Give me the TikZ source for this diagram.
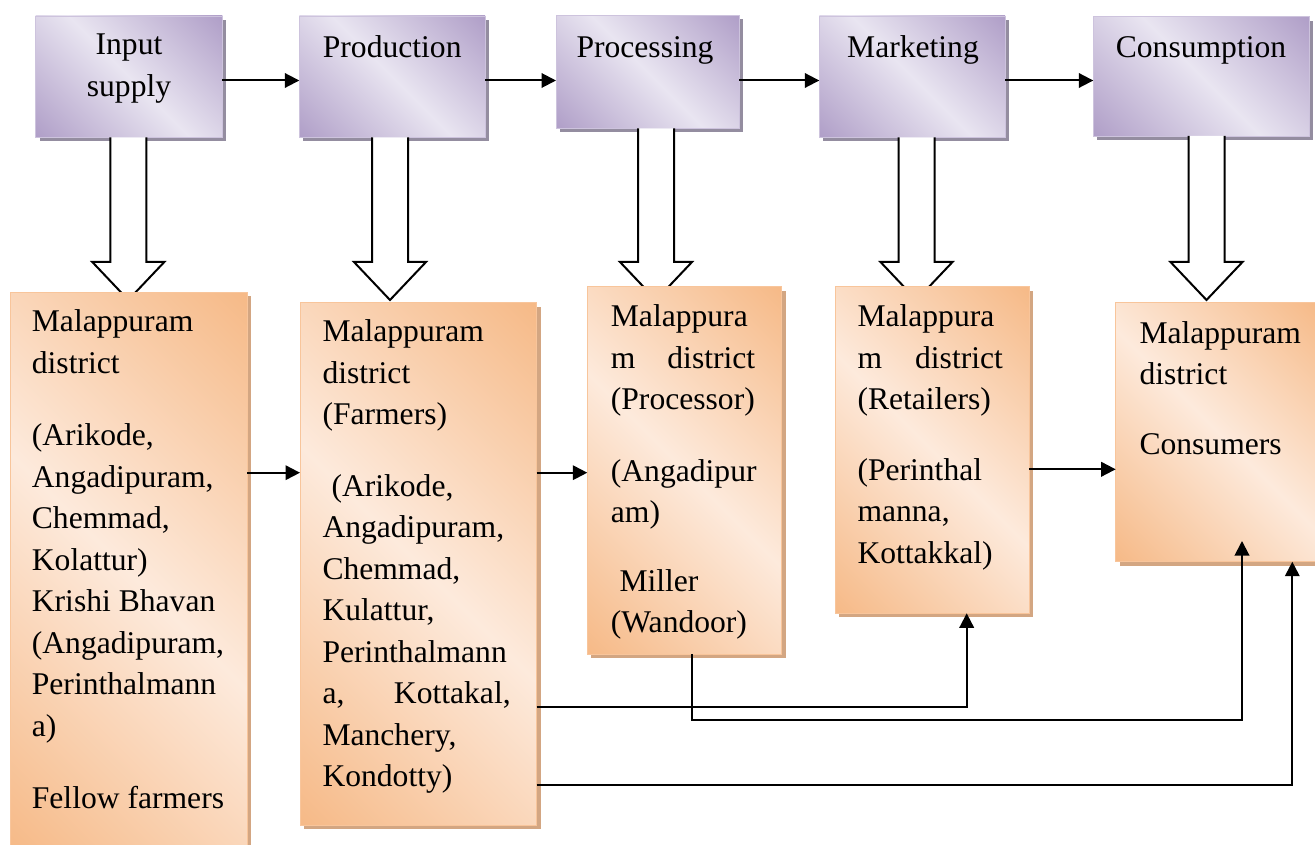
\documentclass[tikz,border=0pt]{standalone}
\usepackage{fontspec}
\setmainfont{Liberation Serif}
\usetikzlibrary{arrows.meta,shadows}

\definecolor{pdark}{HTML}{B09FC8}
\definecolor{plight}{HTML}{E9E5F1}
\definecolor{pedge}{HTML}{CDC3DD}
\definecolor{pshadow}{HTML}{948DA0}
\definecolor{odark}{HTML}{F6BA88}
\definecolor{olight}{HTML}{FDEADC}
\definecolor{oedge}{HTML}{F8C59B}
\definecolor{oshadow}{HTML}{D3A682}

% diagonal gradients: dark corners, light band along the other diagonal
\pgfdeclarehorizontalshading{purplediag}{100bp}{color(0bp)=(pdark); color(15bp)=(pdark); color(50bp)=(plight); color(85bp)=(pdark); color(100bp)=(pdark)}
\pgfdeclarehorizontalshading{orangediag}{100bp}{color(0bp)=(odark); color(15bp)=(odark); color(50bp)=(olight); color(85bp)=(odark); color(100bp)=(odark)}

\newcommand\spreadline[1]{\leavevmode\hbox to\linewidth{#1}}

\tikzset{
  stage/.style={draw=pedge, line width=0.8pt, shading=purplediag, shading angle=45,
    inner sep=0pt, outer sep=0pt, anchor=north west,
    drop shadow={shadow xshift=4pt, shadow yshift=-4pt, fill=pshadow, opacity=1}},
  place/.style={draw=oedge, line width=0.8pt, shading=orangediag, shading angle=45,
    inner sep=0pt, outer sep=0pt, anchor=north west,
    drop shadow={shadow xshift=4pt, shadow yshift=-4pt, fill=oshadow, opacity=1}},
  lbl/.style={inner sep=0pt, font=\fontsize{31.6}{41.2}\selectfont, anchor=base},
  txt/.style={inner sep=0pt, font=\fontsize{31.6}{41.5}\selectfont, anchor=base west},
  hollow/.style={draw=black, line width=2pt, fill=white, line join=miter},
  conn/.style={line width=2pt, -{Triangle[length=14.5pt,width=14.5pt]}},
}

\begin{document}
\begin{tikzpicture}[x=1pt,y=-1pt]
\useasboundingbox (0,0) rectangle (1315,845);
\clip (0,0) rectangle (1315,845);

% stages of the chain
\node[stage, minimum width=186.6pt, minimum height=121.3pt] (ps) at (35.7,16) {};
\node[stage, minimum width=185.7pt, minimum height=121.3pt] (pr) at (299.3,16) {};
\node[stage, minimum width=183.3pt, minimum height=113pt]   (pc) at (556,15.5) {};
\node[stage, minimum width=185.7pt, minimum height=121.3pt] (mk) at (819.3,16) {};
\node[stage, minimum width=216pt,   minimum height=119.3pt] (cs) at (1093.3,16.7) {};

\node[lbl] (lps) at (129,55) {\parbox[t]{180pt}{\centering Input\\ supply}};
\node[lbl] (lpr) at (392.2,58) {Production};
\node[lbl] (lpc) at (645,58) {Processing};
\node[lbl] (lmk) at (913,58) {Marketing};
\node[lbl] (lcs) at (1201,58) {Consumption};

\draw[conn] (ps.east |- 0,80.5) -- (pr.west |- 0,80.5);
\draw[conn] (pr.east |- 0,80.5) -- (pc.west |- 0,80.5);
\draw[conn] (pc.east |- 0,80.5) -- (mk.west |- 0,80.5);
\draw[conn] (mk.east |- 0,80.5) -- (cs.west |- 0,80.5);

% hollow block arrows down to the actors
\draw[hollow] (110.3,0 |- ps.south) -- (110.3,262) -- (92.3,262) -- (128.3,300) -- (164.3,262) -- (146.3,262) -- (146.3,0 |- ps.south);
\draw[hollow] (372,0 |- pr.south) -- (372,262) -- (354,262) -- (390,300) -- (426,262) -- (408,262) -- (408,0 |- pr.south);
\draw[hollow] (638,0 |- pc.south) -- (638,262) -- (620,262) -- (656,300) -- (692,262) -- (674,262) -- (674,0 |- pc.south);
\draw[hollow] (898.5,0 |- mk.south) -- (898.5,262) -- (880.5,262) -- (916.5,300) -- (952.5,262) -- (934.5,262) -- (934.5,0 |- mk.south);
\draw[hollow] (1188.5,0 |- cs.south) -- (1188.5,262) -- (1170.5,262) -- (1206.5,300) -- (1242.5,262) -- (1224.5,262) -- (1224.5,0 |- cs.south);

% actors in Malappuram district
\node[place, minimum width=237pt,   minimum height=560pt]   (b1) at (10,292) {};
\node[place, minimum width=236.7pt, minimum height=522.3pt] (b2) at (300,302.7) {};
\node[place, minimum width=194.4pt, minimum height=367.3pt] (b3) at (587.3,286.7) {};
\node[place, minimum width=194.3pt, minimum height=326.6pt] (b4) at (835,286.7) {};
\node[place, minimum width=205pt,   minimum height=259pt]   (b5) at (1115.7,302.7) {};

\node[txt] (t1) at (31.7,331.7) {\parbox[t]{205pt}{\raggedright
  Malappuram\\ district\\[31pt]
  (Arikode,\\ Angadipuram,\\ Chemmad,\\ Kolattur)\\ Krishi Bhavan\\ (Angadipuram,\\ Perinthalmann\\ a)\\[31pt]
  Fellow farmers}};

\node[txt] (t2) at (322.3,341.7) {\parbox[t]{188.2pt}{\raggedright
  Malappuram\\ district\\ (Farmers)\\[30pt]
  \hspace*{9pt}(Arikode,\\ Angadipuram,\\ Chemmad,\\ Kulattur,\\ Perinthalmann\\
  \spreadline{a,\hfill Kottakal,}\\ Manchery,\\ Kondotty)}};

\node[txt] (t3) at (610.7,326.7) {\parbox[t]{144.3pt}{\raggedright
  Malappura\\ \spreadline{m\hfill district}\\ (Processor)\\[30pt]
  (Angadipur\\ am)\\[27pt]
  \hspace*{8.6pt}Miller\\ (Wandoor)}};

\node[txt] (t4) at (857.3,326.7) {\parbox[t]{145.4pt}{\raggedright
  Malappura\\ \spreadline{m\hfill district}\\ (Retailers)\\[29pt]
  (Perinthal\\ manna,\\ Kottakkal)}};

\node[txt] (t5) at (1139.3,343.3) {\parbox[t]{170pt}{\raggedright
  Malappuram\\ district\\[28.5pt] Consumers}};

% flows between actors
\coordinate (c5in) at (1242,541);
\draw[conn] (b1.east |- 0,472.7) -- (b2.west |- 0,472.7);
\draw[conn] (b2.east |- 0,472.7) -- (b3.west |- 0,472.7);
\draw[conn] (b4.east |- 0,469.3) -- (b5.west |- 0,469.3);
\draw[conn] (b2.east |- 0,706.7) -- (966.7,706.7) -- (b4.south -| 966.7,0);
\draw[conn] (b3.south -| 692.3,0) -- (692.3,720) -- (1242,720) -- (c5in);
\draw[conn] (b2.east |- 0,785) -- (1292.3,785) -- (b5.south -| 1292.3,0);
\end{tikzpicture}
\end{document}
